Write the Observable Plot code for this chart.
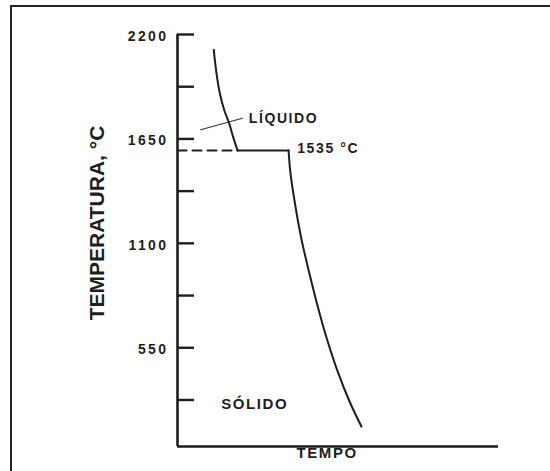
<!DOCTYPE html>
<html><head><meta charset="utf-8">
<script src="https://cdn.jsdelivr.net/npm/d3@7"></script>
<script src="https://cdn.jsdelivr.net/npm/@observablehq/plot@0.6"></script>
<style>
html,body{margin:0;padding:0;background:#fff;overflow:hidden;width:550px;height:471px;}
#chart{position:absolute;left:0;top:0;}
#frame{position:absolute;left:10px;top:5px;width:700px;height:700px;border:2px solid #222;box-sizing:border-box;pointer-events:none;}
</style></head><body>
<div id="chart"></div><div id="frame"></div>
<script>
// ---- data (time in arbitrary units, temperature in °C scale units) ----
const yTicks = [2200, 1925, 1650, 1375, 1100, 825, 550, 275];
const yTickLabels = [2200, 1650, 1100, 550];
const liquidT    = [11.3, 12.15, 13.2, 14.6, 16.0, 17.4, 18.7];
const liquidTemp = [2119, 1995, 1889, 1800, 1737, 1657, 1589];
const plateauT    = [18.7, 34.6];
const plateauTemp = [1589, 1589];
const solidT    = [34.6, 35.2, 36.8, 38.7, 41.1, 43.6, 46.7, 50.0, 53.6, 57.3];
const solidTemp = [1589, 1468, 1289, 1115, 941, 773, 588, 420, 267, 135];
const dashT    = [0, 18.7];
const dashTemp = [1589, 1589];
const leaderT    = [7.2, 20.2];
const leaderTemp = [1698, 1759];
const annoText = ["LÍQUIDO", "1535 °C", "SÓLIDO"];
const annoT    = [22.2, 37.3, 13.6];
const annoTemp = [1755, 1597, 254];
const xLabel = "TEMPO";
const xLabelT = 46.6;
const yLabel = "TEMPERATURA, °C";
const yLabelTemp = 1207;
const tDomain = [0, 100];
const tempDomain = [30, 2200];

const pts = (xs, ys) => xs.map((x, i) => ({t: x, temp: ys[i]}));
const ink = "#1e1e1e";

const plot = Plot.plot({
  width: 550, height: 471,
  marginLeft: 177, marginRight: 52, marginTop: 34, marginBottom: 25,
  x: {domain: tDomain, axis: null},
  y: {domain: tempDomain, axis: null},
  style: {fontFamily: "'Liberation Sans', Arial, sans-serif", fontWeight: "bold", fontSize: "14px", color: ink, background: "white"},
  marks: [
    Plot.ruleX([tDomain[0]], {y1: tempDomain[0], y2: tempDomain[1], stroke: ink, strokeWidth: 2.6}),
    Plot.ruleY([tempDomain[0]], {x1: tDomain[0], x2: tDomain[1], stroke: ink, strokeWidth: 2.6}),
    Plot.tickY(yTicks, {y: d => d, stroke: ink, strokeWidth: 2.4, insetRight: 321 - 17}),
    Plot.axisY(yTickLabels, {tickSize: 0, tickPadding: 9, tickFormat: d => String(d), fontSize: 14, fontWeight: "bold", fill: ink, dy: 2, label: null}),
    Plot.line(pts(dashT, dashTemp), {x: "t", y: "temp", stroke: ink, strokeWidth: 2, strokeDasharray: "9,6"}),
    Plot.line(pts(liquidT, liquidTemp), {x: "t", y: "temp", stroke: ink, strokeWidth: 2, curve: "catmull-rom"}),
    Plot.line(pts(plateauT, plateauTemp), {x: "t", y: "temp", stroke: ink, strokeWidth: 2}),
    Plot.line(pts(solidT, solidTemp), {x: "t", y: "temp", stroke: ink, strokeWidth: 2, curve: "catmull-rom"}),
    Plot.line(pts(leaderT, leaderTemp), {x: "t", y: "temp", stroke: "#333", strokeWidth: 1.1}),
    Plot.text(annoText.map((s, i) => ({s, t: annoT[i], temp: annoTemp[i]})),
      {x: "t", y: "temp", text: "s", textAnchor: "start", fontSize: 14, fontWeight: "bold", fill: ink}),
    Plot.text([xLabel], {x: () => xLabelT, frameAnchor: "bottom", dy: 11, fontSize: 15, fontWeight: "bold", fill: ink}),
    Plot.text([yLabel], {y: () => yLabelTemp, frameAnchor: "left", textAnchor: "middle", dx: -80, rotate: -90, fontSize: 21, fontWeight: "bold", fill: ink})
  ]
});
document.getElementById("chart").appendChild(plot);
const svg = d3.select(plot);
svg.selectAll("text").attr("letter-spacing", "1.6px");
svg.selectAll("g[aria-label='y-axis tick label'] text").attr("letter-spacing", "2.4px");
svg.selectAll("text").filter(function(){ return this.textContent.startsWith("TEMPERATURA"); }).attr("letter-spacing", "0px");
svg.selectAll("text").filter(function(){ return this.textContent === "SÓLIDO"; }).attr("font-size", 15);
</script>
</body></html>
